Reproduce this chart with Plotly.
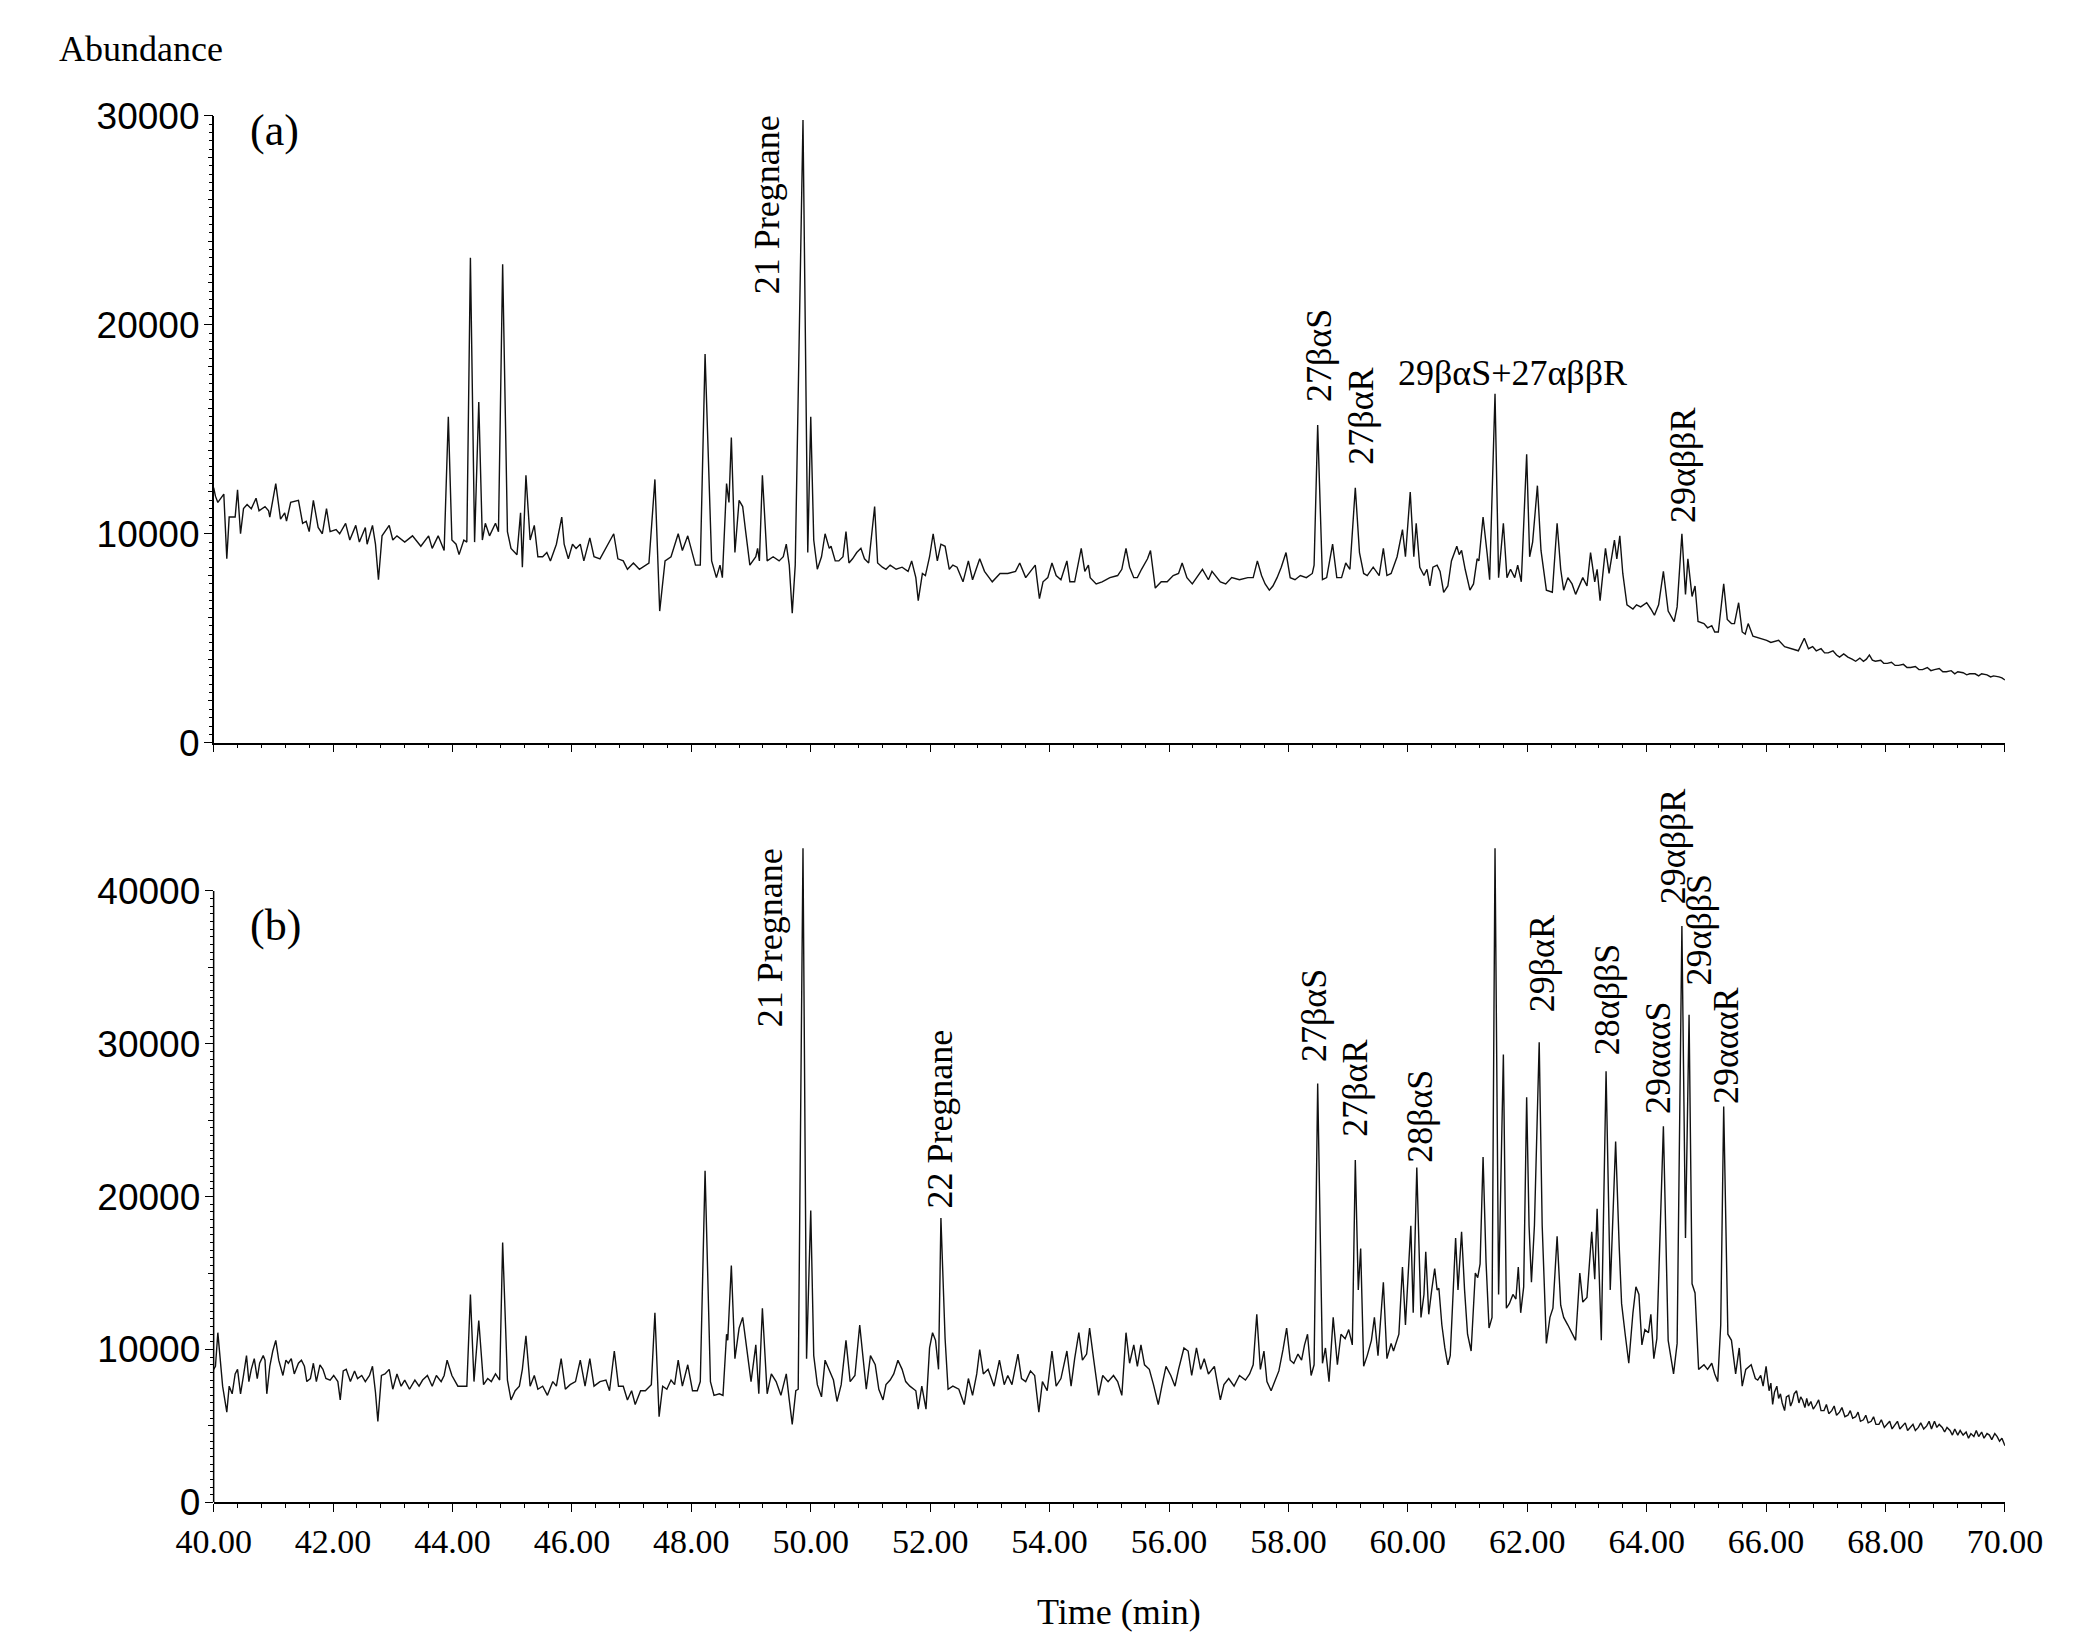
import plotly.graph_objects as go

# ---------------- data (time in min, abundance) ----------------
a_40_50 = [(40.00,12200),(40.03,11800),(40.07,11500),(40.17,11900),(40.22,8800),(40.26,10800),(40.36,10800),(40.40,12100),(40.45,10000),(40.50,11200),(40.56,11400),(40.63,11200),(40.71,11700),(40.76,11100),(40.86,11300),(40.92,11100),(40.94,10800),(41.04,12400),(41.12,10700),(41.19,11000),(41.22,10600),(41.29,11500),(41.42,11600),(41.49,10500),(41.55,10600),(41.60,10100),(41.67,11600),(41.75,10300),(41.82,10000),(41.89,11200),(41.95,10100),(42.05,10200),(42.11,10000),(42.21,10500),(42.28,9700),(42.38,10400),(42.44,9600),(42.54,10300),(42.57,9500),(42.66,10400),(42.71,9500),(42.76,7800),(42.82,9900),(42.87,10100),(42.94,10400),(43.00,9700),(43.07,9900),(43.20,9600),(43.33,9900),(43.47,9400),(43.60,9900),(43.66,9300),(43.76,9900),(43.86,9200),(43.93,15600),(43.99,9700),(44.06,9500),(44.11,9000),(44.19,9700),(44.24,9600),(44.30,23200),(44.37,9600),(44.44,16300),(44.50,9700),(44.55,10500),(44.62,9900),(44.72,10500),(44.77,10100),(44.84,22900),(44.92,10100),(44.98,9300),(45.08,9000),(45.14,11000),(45.17,8400),(45.23,12800),(45.30,9700),(45.37,10400),(45.43,8900),(45.51,8900),(45.58,9100),(45.64,8700),(45.74,9500),(45.83,10800),(45.87,9500),(45.94,8800),(46.01,9500),(46.07,9300),(46.14,9500),(46.20,8700),(46.30,9800),(46.37,8900),(46.47,8800),(46.70,10000),(46.77,8800),(46.86,8700),(46.93,8300),(47.03,8600),(47.13,8300),(47.23,8500),(47.29,8600),(47.39,12600),(47.47,6300),(47.56,8700),(47.66,8900),(47.78,10000),(47.85,9200),(47.94,9900),(48.07,8500),(48.15,8500),(48.23,18600),(48.34,8700),(48.42,7900),(48.48,8500),(48.52,7900),(48.59,12400),(48.63,11500),(48.67,14600),(48.73,9100),(48.80,11600),(48.86,11300),(48.91,10100),(48.98,8500),(49.08,8900),(49.11,9300),(49.14,8700),(49.19,12800),(49.27,8700),(49.37,8900),(49.47,8700),(49.54,8900),(49.59,9500),(49.64,8500),(49.69,6200),(49.74,8500),(49.87,29800),(49.95,9100),(50.00,15600)]

a_50_60 = [(50.05,9700),(50.11,8300),(50.18,8900),(50.24,10000),(50.31,9300),(50.34,9400),(50.41,8700),(50.47,8700),(50.54,8900),(50.59,10100),(50.64,8600),(50.70,8800),(50.77,9100),(50.84,9300),(50.90,8800),(50.97,8600),(51.07,11300),(51.12,8600),(51.20,8400),(51.26,8300),(51.33,8500),(51.43,8300),(51.53,8400),(51.63,8200),(51.69,8700),(51.76,7900),(51.80,6800),(51.87,8100),(51.92,8000),(51.99,8900),(52.05,10000),(52.12,8700),(52.18,9500),(52.25,9400),(52.32,8300),(52.38,8500),(52.45,8400),(52.55,7700),(52.64,8700),(52.71,7800),(52.83,8800),(52.91,8200),(53.04,7700),(53.17,8100),(53.30,8100),(53.43,8200),(53.50,8600),(53.60,7900),(53.70,8300),(53.76,8500),(53.83,6900),(53.89,7700),(53.97,7900),(54.04,8600),(54.11,8000),(54.19,7800),(54.29,8700),(54.34,7700),(54.42,7700),(54.53,9300),(54.59,8200),(54.65,8500),(54.68,7900),(54.78,7600),(54.88,7700),(55.01,7900),(55.14,8000),(55.21,8300),(55.28,9300),(55.34,8400),(55.41,7900),(55.47,7900),(55.54,8300),(55.64,8800),(55.69,9200),(55.77,7400),(55.87,7700),(55.97,7700),(56.07,8000),(56.16,8100),(56.22,8600),(56.30,7900),(56.39,7600),(56.46,7900),(56.56,8300),(56.66,7800),(56.72,8200),(56.86,7700),(56.95,7600),(57.05,7900),(57.18,7800),(57.32,7900),(57.41,7900),(57.48,8700),(57.55,8000),(57.61,7600),(57.68,7300),(57.74,7500),(57.81,7900),(57.88,8400),(57.96,9100),(58.03,7900),(58.11,7800),(58.20,8000),(58.30,7900),(58.40,8100),(58.43,8500),(58.49,15200),(58.57,7800),(58.64,7900),(58.74,9500),(58.81,7900),(58.89,7900),(58.96,8600),(59.03,8300),(59.12,12200),(59.19,9100),(59.26,8100),(59.32,8000),(59.42,8400),(59.52,8000),(59.59,9300),(59.65,8000),(59.72,8100),(59.76,8400),(59.82,8900),(59.91,10200),(59.96,8900),(60.04,12000),(60.10,8900),(60.14,10500)]

a_60_70 = [(60.20,8400),(60.27,8000),(60.32,8300),(60.37,7500),(60.42,8400),(60.49,8500),(60.54,8200),(60.60,7200),(60.67,7500),(60.73,8700),(60.82,9400),(60.86,9000),(60.90,9200),(60.96,8300),(61.04,7300),(61.10,7600),(61.16,8800),(61.19,8700),(61.26,10800),(61.33,9000),(61.37,7800),(61.46,16700),(61.52,7900),(61.60,10500),(61.66,7900),(61.72,8300),(61.79,7900),(61.84,8500),(61.90,7700),(61.99,13800),(62.04,8900),(62.09,9600),(62.17,12300),(62.23,9200),(62.32,7300),(62.42,7200),(62.50,10500),(62.56,8300),(62.61,7300),(62.68,7900),(62.75,7600),(62.81,7100),(62.93,7900),(63.00,7500),(63.06,9100),(63.13,7700),(63.17,8300),(63.22,6800),(63.31,9300),(63.37,8100),(63.46,9700),(63.50,8800),(63.55,9900),(63.60,8100),(63.67,6600),(63.77,6400),(63.83,6600),(63.90,6500),(64.00,6700),(64.07,6400),(64.13,6100),(64.20,6600),(64.28,8200),(64.36,6300),(64.46,5800),(64.51,6500),(64.59,10000),(64.65,7100),(64.69,8800),(64.76,7000),(64.81,7500),(64.86,5800),(64.96,5700),(65.02,5500),(65.09,5600),(65.14,5300),(65.20,5300),(65.29,7600),(65.35,5900),(65.42,5700),(65.47,5700),(65.54,6700),(65.60,5300),(65.65,5200),(65.70,5700),(65.78,5100),(65.91,5000),(66.01,4900),(66.08,4800),(66.21,4900),(66.31,4600),(66.44,4500),(66.54,4400),(66.64,5000),(66.71,4500),(66.78,4600),(66.84,4400),(66.92,4500),(66.98,4300),(67.04,4300),(67.12,4400),(67.18,4200),(67.23,4100),(67.30,4250),(67.37,4100),(67.44,4000),(67.50,3900),(67.57,4050),(67.63,3900),(67.68,4000),(67.73,4200),(67.78,3950),(67.83,3900),(67.92,3950),(67.97,3800),(68.03,3800),(68.10,3850),(68.16,3700),(68.22,3700),(68.30,3750),(68.36,3600),(68.42,3600),(68.50,3650),(68.56,3500),(68.62,3500),(68.70,3600),(68.76,3450),(68.82,3500),(68.90,3550),(68.96,3400),(69.02,3400),(69.10,3450),(69.16,3300),(69.21,3400),(69.30,3350),(69.36,3250),(69.41,3300),(69.50,3300),(69.56,3200),(69.61,3300),(69.70,3250),(69.76,3150),(69.81,3200),(69.90,3150),(69.95,3100),(70.00,3000)]

b_40_50 = [(40.00,8700),(40.03,8900),(40.07,11100),(40.11,9100),(40.15,7600),(40.22,5900),(40.26,7600),(40.31,7100),(40.36,8400),(40.40,8700),(40.45,7100),(40.50,8300),(40.55,9600),(40.59,7900),(40.63,8700),(40.68,9400),(40.73,8100),(40.77,9100),(40.83,9600),(40.86,9300),(40.89,7100),(40.94,8900),(40.99,9900),(41.04,10600),(41.09,9300),(41.16,8300),(41.21,9300),(41.25,9100),(41.30,9400),(41.35,8400),(41.42,9100),(41.47,9300),(41.52,8900),(41.56,7900),(41.62,8100),(41.67,9100),(41.72,7900),(41.78,9000),(41.83,8700),(41.88,8100),(41.95,8000),(42.01,8300),(42.08,7900),(42.12,6700),(42.17,8600),(42.22,8700),(42.29,7900),(42.36,8600),(42.41,8100),(42.48,8300),(42.54,7900),(42.61,8300),(42.66,8900),(42.71,7200),(42.75,5300),(42.81,8300),(42.87,8400),(42.94,8700),(43.00,7400),(43.07,8400),(43.14,7600),(43.20,8000),(43.28,7400),(43.37,8000),(43.44,7600),(43.50,8000),(43.58,8300),(43.66,7600),(43.73,8300),(43.81,7900),(43.86,8300),(43.91,9300),(43.99,8300),(44.09,7600),(44.18,7600),(44.24,7600),(44.30,13600),(44.36,7900),(44.44,11900),(44.52,7700),(44.59,8100),(44.65,7900),(44.72,8400),(44.79,8000),(44.84,17000),(44.92,8000),(44.98,6700),(45.05,7300),(45.12,7600),(45.17,8700),(45.23,10900),(45.30,7600),(45.37,8300),(45.43,7400),(45.51,7600),(45.59,7000),(45.68,7900),(45.74,7600),(45.82,9400),(45.89,7400),(45.97,7700),(46.06,7900),(46.14,9300),(46.22,7600),(46.30,9400),(46.37,7600),(46.47,7900),(46.57,8000),(46.63,7300),(46.71,9900),(46.78,7600),(46.86,7600),(46.93,6700),(47.00,7300),(47.06,6400),(47.15,7300),(47.23,7300),(47.33,7700),(47.39,12400),(47.46,5600),(47.52,7600),(47.59,7400),(47.66,8000),(47.72,7700),(47.78,9300),(47.85,7600),(47.94,9000),(48.02,7300),(48.10,7300),(48.15,7900),(48.23,21700),(48.32,7900),(48.38,7000),(48.47,7100),(48.53,7000),(48.59,11000),(48.61,10600),(48.67,15500),(48.73,9400),(48.80,11400),(48.86,12100),(48.93,10100),(49.00,7900),(49.08,10300),(49.13,7100),(49.19,12700),(49.27,7100),(49.34,8400),(49.42,7900),(49.50,7000),(49.59,8400),(49.64,6700),(49.69,5100),(49.75,7300),(49.79,7400),(49.87,42800),(49.93,9400),(50.00,19100)]

b_50_60 = [(50.05,9600),(50.11,7700),(50.18,6900),(50.24,9300),(50.31,8700),(50.38,8000),(50.44,6600),(50.51,7700),(50.59,10600),(50.66,7900),(50.74,8300),(50.82,11600),(50.88,9300),(50.93,7400),(51.00,9600),(51.08,9000),(51.14,7400),(51.21,6700),(51.26,7700),(51.33,8000),(51.39,8400),(51.46,9300),(51.53,8700),(51.59,7900),(51.66,7600),(51.76,7300),(51.80,6100),(51.86,7600),(51.93,6100),(51.99,10100),(52.04,11100),(52.09,10600),(52.14,8700),(52.18,18600),(52.25,10700),(52.30,7400),(52.38,7600),(52.48,7400),(52.57,6400),(52.64,8100),(52.71,7000),(52.78,8400),(52.83,10000),(52.89,8400),(52.97,8700),(53.07,7600),(53.16,9300),(53.24,7700),(53.30,8300),(53.37,7700),(53.47,9700),(53.53,8100),(53.60,7900),(53.68,8600),(53.75,8300),(53.82,5900),(53.88,7900),(53.96,7300),(54.04,9900),(54.11,7600),(54.19,8100),(54.29,9900),(54.36,7600),(54.42,9400),(54.49,11100),(54.55,9300),(54.62,9700),(54.67,11400),(54.74,9300),(54.82,7000),(54.89,8300),(54.98,7900),(55.07,8300),(55.14,7900),(55.21,7000),(55.28,11100),(55.34,9100),(55.41,10300),(55.47,8900),(55.53,10300),(55.59,9000),(55.67,8700),(55.74,7700),(55.82,6400),(55.88,7600),(55.95,8900),(56.03,8300),(56.10,7600),(56.16,8700),(56.25,10100),(56.32,9900),(56.38,8300),(56.46,10100),(56.53,8700),(56.59,9400),(56.66,8400),(56.76,8900),(56.86,6700),(56.92,7700),(57.00,8100),(57.09,7600),(57.18,8300),(57.28,8000),(57.35,8400),(57.41,9000),(57.47,12300),(57.53,8700),(57.59,9900),(57.64,7900),(57.71,7300),(57.78,8000),(57.84,8600),(57.91,10000),(57.97,11400),(58.03,9300),(58.09,9100),(58.16,9700),(58.22,9300),(58.27,10300),(58.32,11000),(58.38,8300),(58.43,9000),(58.49,27400),(58.57,9100),(58.62,10100),(58.68,7900),(58.75,12100),(58.82,9000),(58.88,11000),(58.95,10700),(59.01,11300),(59.07,10300),(59.12,22400),(59.17,13900),(59.21,16600),(59.26,8900),(59.32,9600),(59.39,10600),(59.44,12100),(59.50,9600),(59.59,14400),(59.65,9400),(59.72,10400),(59.76,9900),(59.85,11000),(59.91,15400),(59.96,11600),(60.05,18100),(60.09,12400),(60.15,21900)]

b_60_70 = [(60.22,12100),(60.27,13600),(60.30,16400),(60.35,12300),(60.40,13900),(60.45,15300),(60.49,13900),(60.52,14000),(60.57,11600),(60.62,10100),(60.67,9000),(60.71,9600),(60.75,13000),(60.80,17300),(60.84,13900),(60.90,17700),(60.95,13900),(61.00,11000),(61.06,9900),(61.13,15000),(61.17,14700),(61.21,15600),(61.26,22600),(61.31,15700),(61.36,11400),(61.41,12100),(61.46,42800),(61.52,13600),(61.60,29300),(61.65,12700),(61.70,13000),(61.76,13600),(61.81,13300),(61.85,15400),(61.89,12400),(61.94,14100),(61.99,26500),(62.03,18100),(62.07,14400),(62.12,18100),(62.20,30100),(62.25,18100),(62.32,10400),(62.38,12100),(62.43,12700),(62.50,17400),(62.56,12900),(62.61,12100),(62.68,11600),(62.75,11000),(62.81,10600),(62.88,15000),(62.93,13100),(63.00,13400),(63.04,15700),(63.08,17700),(63.13,14600),(63.17,19200),(63.24,10600),(63.32,28200),(63.39,13900),(63.48,23600),(63.54,16700),(63.58,13000),(63.64,11000),(63.70,9100),(63.77,12400),(63.82,14100),(63.87,13600),(63.92,10300),(63.97,11300),(64.03,11100),(64.07,12300),(64.12,9400),(64.17,10700),(64.28,24600),(64.36,10600),(64.45,8400),(64.51,10400),(64.59,37700),(64.65,17300),(64.71,31900),(64.76,14300),(64.81,13700),(64.87,8700),(64.96,9000),(65.02,8700),(65.09,9100),(65.14,8400),(65.19,7900),(65.24,11600),(65.29,25900),(65.36,11000),(65.42,10600),(65.49,8400),(65.55,10100),(65.60,7600),(65.66,8700),(65.75,9000),(65.82,8100),(65.86,8000),(65.91,8300),(65.95,7600),(66.00,8900),(66.03,7900),(66.05,7300),(66.08,7800),(66.11,6400),(66.14,7200),(66.18,7600),(66.21,6800),(66.24,7100),(66.27,6500),(66.31,6000),(66.34,6900),(66.38,7000),(66.41,6300),(66.44,6600),(66.47,7100),(66.51,7300),(66.55,6500),(66.58,6900),(66.61,6700),(66.65,6200),(66.68,6800),(66.71,6300),(66.75,6600),(66.79,6100),(66.84,6400),(66.88,6700),(66.92,6000),(66.97,6000),(67.01,6400),(67.05,5800),(67.10,6000),(67.14,6300),(67.18,5700),(67.23,5900),(67.27,6200),(67.32,5600),(67.37,5700),(67.41,6000),(67.45,5500),(67.50,5600),(67.54,5900),(67.58,5300),(67.63,5400),(67.67,5700),(67.71,5200),(67.76,5300),(67.80,5600),(67.84,5100),(67.89,5100),(67.93,5400),(67.98,4900),(68.03,5100),(68.07,5300),(68.11,4800),(68.16,5100),(68.20,5300),(68.24,4800),(68.29,5000),(68.33,5200),(68.37,4700),(68.42,4900),(68.46,5100),(68.50,4700),(68.55,4900),(68.59,5200),(68.64,4800),(68.69,5000),(68.73,5300),(68.77,4800),(68.82,5300),(68.86,4900),(68.90,5100),(68.95,4900),(68.99,4600),(69.03,4900),(69.08,4700),(69.12,4400),(69.16,4800),(69.21,4400),(69.25,4700),(69.30,4400),(69.35,4600),(69.39,4200),(69.43,4500),(69.48,4300),(69.52,4700),(69.56,4300),(69.61,4600),(69.65,4200),(69.70,4500),(69.74,4400),(69.78,4100),(69.83,4500),(69.87,4300),(69.91,4000),(69.95,4200),(70.00,3700)]

x_tick_vals = [40, 42, 44, 46, 48, 50, 52, 54, 56, 58, 60, 62, 64, 66, 68, 70]
x_tick_text = ["40.00", "42.00", "44.00", "46.00", "48.00", "50.00", "52.00", "54.00",
               "56.00", "58.00", "60.00", "62.00", "64.00", "66.00", "68.00", "70.00"]
ya_tick_vals = [0, 10000, 20000, 30000]
ya_tick_text = ["0", "10000", "20000", "30000"]
yb_tick_vals = [0, 10000, 20000, 30000, 40000]
yb_tick_text = ["0", "10000", "20000", "30000", "40000"]

labels_a = [("21 Pregnane", 49.27, 21350), ("27βαS", 58.50, 16200),
            ("27βαR", 59.22, 13200), ("29αββR", 64.62, 10400)]
labels_b = [("21 Pregnane", 49.31, 30950), ("22 Pregnane", 52.16, 19100),
            ("27βαS", 58.43, 28650), ("27βαR", 59.11, 23800),
            ("28βαS", 60.20, 22100), ("29βαR", 62.26, 31950),
            ("28αββS", 63.33, 29100), ("29αααS", 64.18, 25270),
            ("29αββR", 64.44, 39000), ("29αββS", 64.88, 33700),
            ("29αααR", 65.33, 25900)]
combo_label = "29βαS+27αββR"

# ---------------- build ----------------
def split(*segs):
    pts = [p for s in segs for p in s]
    return [p[0] for p in pts], [p[1] for p in pts]

ta, va = split(a_40_50, a_50_60, a_60_70)
tb, vb = split(b_40_50, b_50_60, b_60_70)

W, H = 2086, 1646
XL, XR = 174, 2033
A_Y0, A_YT = 733, 90          # top panel: pixel of 0 and of 30000
B_Y0, B_Y40 = 1512, 885       # bottom panel: pixel of 0 and of 40000
B_TOP = 43500
b_top_px = B_Y0 - (B_Y0 - B_Y40) * B_TOP / 40000

xdom = [XL / W, XR / W]
ya_dom = [1 - A_Y0 / H, 1 - A_YT / H]
yb_dom = [1 - B_Y0 / H, 1 - b_top_px / H]

serif = "Liberation Serif, Times New Roman, serif"
sans = "Liberation Sans, Arial, sans-serif"
LINE = dict(color="#111111", width=1.4)

fig = go.Figure()
fig.add_trace(go.Scatter(x=ta, y=va, mode="lines", line=LINE, xaxis="x", yaxis="y", showlegend=False))
fig.add_trace(go.Scatter(x=tb, y=vb, mode="lines", line=LINE, xaxis="x2", yaxis="y2", showlegend=False))
# carriers for the extra tick-level axes
fig.add_trace(go.Scatter(x=[None], y=[None], xaxis="x", yaxis="y3", showlegend=False, hoverinfo="skip"))
fig.add_trace(go.Scatter(x=[None], y=[None], xaxis="x2", yaxis="y4", showlegend=False, hoverinfo="skip"))

x_minor = [40 + 0.4 * i for i in range(76)]
ya_minor = [400 * i for i in range(76)]
ya_mid = [2000 * i for i in range(16)]
yb_minor = [500 * i for i in range(81)]
yb_mid = [5000 * i for i in range(9)]

xcommon = dict(domain=xdom, range=[40, 70], showline=True, linecolor="black", linewidth=1.5,
               ticks="outside", tickcolor="black", tickwidth=1.2, ticklen=8,
               tickmode="array", tickvals=x_tick_vals, ticktext=x_tick_text,
               showgrid=False, zeroline=False, fixedrange=True,
               minor=dict(tickmode="array", tickvals=x_minor, ticks="outside", ticklen=4,
                          tickcolor="black", tickwidth=1, showgrid=False))

fig.update_layout(
    width=W, height=H, margin=dict(l=0, r=0, t=0, b=0),
    paper_bgcolor="white", plot_bgcolor="white",
    xaxis=dict(anchor="y", showticklabels=False, **xcommon),
    xaxis2=dict(anchor="y2", showticklabels=True,
                tickfont=dict(family=serif, size=34, color="black"), **xcommon),
    yaxis=dict(domain=ya_dom, anchor="x", range=[0, 30000], showline=True, linecolor="black",
               linewidth=1.5, ticks="outside", ticklen=8, tickwidth=1.2, tickcolor="black",
               tickmode="array", tickvals=ya_tick_vals, ticktext=ya_tick_text,
               tickfont=dict(family=sans, size=37, color="black"), ticklabelstandoff=-3,
               showgrid=False, zeroline=False, fixedrange=True,
               minor=dict(tickmode="array", tickvals=ya_minor, ticks="outside", ticklen=3,
                          tickcolor="black", tickwidth=1, showgrid=False)),
    yaxis3=dict(overlaying="y", anchor="x", side="left", range=[0, 30000], showline=False,
                ticks="outside", ticklen=5, tickwidth=1.1, tickcolor="black",
                tickmode="array", tickvals=ya_mid, showticklabels=False,
                showgrid=False, zeroline=False, fixedrange=True),
    yaxis2=dict(domain=yb_dom, anchor="x2", range=[0, B_TOP], showline=False,
                ticks="outside", ticklen=8, tickwidth=1.2, tickcolor="black",
                tickmode="array", tickvals=yb_tick_vals, ticktext=yb_tick_text,
                tickfont=dict(family=sans, size=37, color="black"), ticklabelstandoff=-3,
                showgrid=False, zeroline=False, fixedrange=True,
                minor=dict(tickmode="array", tickvals=yb_minor, ticks="outside", ticklen=3,
                           tickcolor="black", tickwidth=1, showgrid=False)),
    yaxis4=dict(overlaying="y2", anchor="x2", side="left", range=[0, B_TOP], showline=False,
                ticks="outside", ticklen=5, tickwidth=1.1, tickcolor="black",
                tickmode="array", tickvals=yb_mid, showticklabels=False,
                showgrid=False, zeroline=False, fixedrange=True),
)

# bottom y-axis line, only up to 40000 (peaks rise above it)
fig.add_shape(type="line", xref="paper", x0=xdom[0], x1=xdom[0], yref="y2", y0=0, y1=40000,
              line=dict(color="black", width=1.5), layer="above")

lab_font = dict(family=serif, size=36, color="black")
for txt, x, y in labels_a:
    fig.add_annotation(text=txt, x=x, y=y, xref="x", yref="y", textangle=-90,
                       xanchor="center", yanchor="bottom", showarrow=False, font=lab_font)
for txt, x, y in labels_b:
    fig.add_annotation(text=txt, x=x, y=y, xref="x2", yref="y2", textangle=-90,
                       xanchor="center", yanchor="bottom", showarrow=False, font=lab_font)
fig.add_annotation(text=combo_label, x=61.75, y=17700, xref="x", yref="y",
                   xanchor="center", yanchor="middle", showarrow=False, font=lab_font)
fig.add_annotation(text=combo_label, x=61.75, y=44400, xref="x2", yref="y2",
                   xanchor="center", yanchor="middle", showarrow=False, font=lab_font)

fig.add_annotation(text="(a)", x=210 / W, y=1 - 105 / H, xref="paper", yref="paper",
                   xanchor="left", yanchor="middle", showarrow=False,
                   font=dict(family=serif, size=44, color="black"))
fig.add_annotation(text="(b)", x=210 / W, y=1 - 920 / H, xref="paper", yref="paper",
                   xanchor="left", yanchor="middle", showarrow=False,
                   font=dict(family=serif, size=44, color="black"))
fig.add_annotation(text="Abundance", x=11 / W, y=1 - 22 / H, xref="paper", yref="paper",
                   xanchor="left", yanchor="middle", showarrow=False,
                   font=dict(family=serif, size=36, color="black"))
fig.add_annotation(text="Time (min)", x=1114 / W, y=1 - 1624 / H, xref="paper", yref="paper",
                   xanchor="center", yanchor="middle", showarrow=False,
                   font=dict(family=serif, size=36, color="black"))

fig.write_html("out.html")
